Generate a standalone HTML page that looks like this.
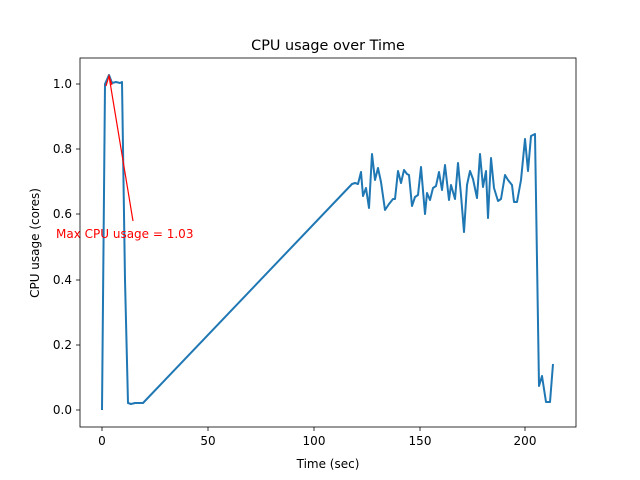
<!DOCTYPE html>
<html><head><style>body{margin:0;background:#fff}svg{display:block}text{font-family:"DejaVu Sans","Liberation Sans",sans-serif}</style></head><body>
<svg width="640" height="480" xmlns="http://www.w3.org/2000/svg">
<rect width="640" height="480" fill="#fff"/>
<text x="328" y="50" font-size="14.4" text-anchor="middle">CPU usage over Time</text>
<g stroke="#000" stroke-width="0.8">
<line x1="102" y1="427" x2="102" y2="431"/><line x1="208" y1="427" x2="208" y2="431"/><line x1="314" y1="427" x2="314" y2="431"/><line x1="420" y1="427" x2="420" y2="431"/><line x1="525" y1="427" x2="525" y2="431"/>
<line x1="76" y1="410" x2="80" y2="410"/><line x1="76" y1="345" x2="80" y2="345"/><line x1="76" y1="280" x2="80" y2="280"/><line x1="76" y1="214" x2="80" y2="214"/><line x1="76" y1="149" x2="80" y2="149"/><line x1="76" y1="84" x2="80" y2="84"/>
</g>
<g font-size="12" text-anchor="middle">
<text x="102" y="445">0</text><text x="208" y="445">50</text><text x="314" y="445">100</text><text x="420" y="445">150</text><text x="525" y="445">200</text>
<text x="328" y="468">Time (sec)</text>
</g>
<g font-size="12" text-anchor="end">
<text x="72" y="414">0.0</text><text x="72" y="349">0.2</text><text x="72" y="284">0.4</text><text x="72" y="218">0.6</text><text x="72" y="153">0.8</text><text x="72" y="88">1.0</text>
</g>
<text transform="translate(39,243) rotate(-90)" font-size="12" text-anchor="middle">CPU usage (cores)</text>
<polyline fill="none" stroke="#1f77b4" stroke-width="2" stroke-linejoin="round" points="102,410 105,84 109,75 112,83 116,82 120,83 122,82 125,280 128,403 131,404 135,403 143,403 352,184 355,183 358,184 361,172 363,196 366,188 369,208 372,154 375,180 378,168 381,182 385,210 389,204 393,199 395,199 398,171 401,183 404,170 407,174 409,175 412,206 415,197 418,195 421,167 425,214 427,193 430,200 433,188 436,186 439,172 442,190 445,165 449,200 451,185 455,199 458,163 461,195 464,232 467,185 470,171 473,179 477,198 480,154 483,187 486,171 488,218 491,158 494,188 498,201 501,199 505,175 508,180 512,185 514,202 517,202 521,180 525,139 528,171 531,136 535,134 539,386 542,376 546,402 550,402 553,364"/>
<g stroke="red" stroke-width="1.2" fill="none">
<line x1="133" y1="221" x2="109" y2="76"/>
<polyline points="106,86 109,76 112,85"/>
</g>
<text x="56" y="238" font-size="12" fill="red">Max CPU usage = 1.03</text>
<rect x="80" y="58" width="496" height="369" fill="none" stroke="#000" stroke-width="0.8"/>
</svg>
</body></html>
